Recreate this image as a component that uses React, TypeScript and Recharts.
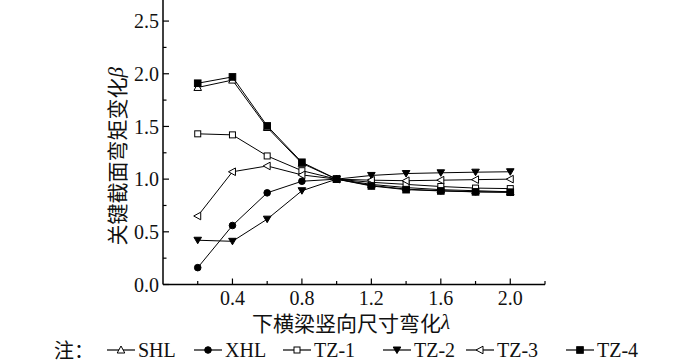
import React from 'react';
import { LineChart, Line, XAxis, YAxis, Label } from 'recharts';

const lambdaValues = [0.2, 0.4, 0.6, 0.8, 1.0, 1.2, 1.4, 1.6, 1.8, 2.0];
const SHL = [1.87, 1.94, 1.49, 1.15, 1.0, 0.95, 0.92, 0.9, 0.89, 0.88];
const XHL = [0.16, 0.56, 0.87, 0.98, 1.0, 0.94, 0.905, 0.89, 0.88, 0.875];
const TZ1 = [1.43, 1.42, 1.22, 1.08, 1.0, 0.97, 0.95, 0.93, 0.915, 0.91];
const TZ2 = [0.42, 0.41, 0.62, 0.89, 1.0, 1.035, 1.053, 1.06, 1.066, 1.07];
const TZ3 = [0.65, 1.07, 1.125, 1.04, 1.0, 0.99, 0.985, 0.99, 0.995, 1.0];
const TZ4 = [1.91, 1.97, 1.505, 1.16, 1.0, 0.935, 0.9, 0.888, 0.879, 0.876];

const seriesNames = ['SHL', 'XHL', 'TZ-1', 'TZ-2', 'TZ-3', 'TZ-4'];
const seriesValues = [SHL, XHL, TZ1, TZ2, TZ3, TZ4];
const markerTypes = ['triUpOpen', 'circleFilled', 'squareOpen', 'triDownFilled', 'triLeftOpen', 'squareFilled'];

const xTicks = [0.2, 0.4, 0.6, 0.8, 1.0, 1.2, 1.4, 1.6, 1.8, 2.0, 2.2];
const xLabelTicks = [0.4, 0.8, 1.2, 1.6, 2.0];
const yTicks = [0, 0.25, 0.5, 0.75, 1.0, 1.25, 1.5, 1.75, 2.0, 2.25, 2.5];
const yLabelTicks = [0, 0.5, 1.0, 1.5, 2.0, 2.5];

const xTitle = '下横梁竖向尺寸弯化';
const xTitleSym = 'λ';
const yTitle = '关键截面弯矩变化';
const yTitleSym = 'β';
const notePrefix = '注：';

const legendLefts = [106, 193, 282, 382, 465, 565];

const data = lambdaValues.map((l, i) => {
  const row: any = { lambda: l };
  seriesNames.forEach((n, k) => {
    row[n] = seriesValues[k][i];
  });
  return row;
});

const SERIF = "'Liberation Serif', 'Times New Roman', Times, serif";
const CJK = "'Noto Sans CJK SC', sans-serif";

function Marker({ type, cx, cy }: { type: string; cx: number; cy: number }) {
  const s = 3.3;
  const common = { stroke: '#000', strokeWidth: 1 };
  switch (type) {
    case 'triUpOpen':
      return <polygon points={`${cx},${cy - 4} ${cx - 3.8},${cy + 3} ${cx + 3.8},${cy + 3}`} fill="#fff" {...common} />;
    case 'circleFilled':
      return <circle cx={cx} cy={cy} r={3.3} fill="#000" {...common} />;
    case 'squareOpen':
      return <rect x={cx - 3} y={cy - 3} width={6} height={6} fill="#fff" {...common} />;
    case 'triDownFilled':
      return <polygon points={`${cx},${cy + 3.5} ${cx - 3.8},${cy - 3} ${cx + 3.8},${cy - 3}`} fill="#000" {...common} />;
    case 'triLeftOpen':
      return <polygon points={`${cx - 4},${cy} ${cx + 3},${cy - 3.8} ${cx + 3},${cy + 3.8}`} fill="#fff" {...common} />;
    case 'squareFilled':
      return <rect x={cx - s} y={cy - s} width={2 * s} height={2 * s} fill="#000" {...common} />;
    default:
      return null;
  }
}

const approxIn = (v: number, arr: number[]) => arr.some((a) => Math.abs(a - v) < 1e-6);

const YTick = (props: any) => {
  const { x, y, payload } = props;
  const major = approxIn(payload.value, yLabelTicks);
  const axisX = x + 4;
  return (
    <g>
      <line x1={axisX} x2={axisX + (major ? 6 : 3.5)} y1={y} y2={y} stroke="#000" strokeWidth={1.2} />
      {major && (
        <text x={x} y={y} dy="0.36em" textAnchor="end" style={{ fontFamily: SERIF }} fontSize={20} fill="#111">
          {payload.value.toFixed(1)}
        </text>
      )}
    </g>
  );
};

const XTick = (props: any) => {
  const { x, y, payload } = props;
  const major = approxIn(payload.value, xLabelTicks);
  const axisY = y - 6;
  return (
    <g>
      <line x1={x} x2={x} y1={axisY} y2={axisY - (major ? 6 : 3.5)} stroke="#000" strokeWidth={1.2} />
      {major && (
        <text x={x} y={y} dy="0.72em" textAnchor="middle" style={{ fontFamily: SERIF }} fontSize={20} fill="#111">
          {payload.value.toFixed(1)}
        </text>
      )}
    </g>
  );
};

function LegendSymbol({ type }: { type: string }) {
  return (
    <svg width={30} height={14} style={{ display: 'block' }}>
      <line x1={1} x2={29} y1={7} y2={7} stroke="#000" strokeWidth={1.2} />
      <Marker type={type} cx={15} cy={7} />
    </svg>
  );
}

export default function App() {
  return (
    <div style={{ position: 'absolute', left: 0, top: 0, width: 700, height: 363, background: '#fff' }}>
      <LineChart width={700} height={363} data={data} margin={{ top: 0, right: 155, bottom: 48.5, left: 0 }}>
        <XAxis
          dataKey="lambda"
          type="number"
          domain={[0, 2.2]}
          ticks={xTicks}
          interval={0}
          tickSize={0}
          tickMargin={6}
          tickLine={false}
          tick={<XTick />}
          height={30}
          axisLine={{ stroke: '#000', strokeWidth: 1.5 }}
          allowDataOverflow
        >
          <Label
            content={(p: any) => {
              const vb = p.viewBox;
              return (
                <text x={vb.x + vb.width / 2 - 3} y={322} textAnchor="middle" dominantBaseline="central" fontSize={21} fill="#111">
                  <tspan style={{ fontFamily: CJK }}>{xTitle}</tspan>
                  <tspan style={{ fontFamily: SERIF, fontStyle: 'italic' }}>{xTitleSym}</tspan>
                </text>
              );
            }}
          />
        </XAxis>
        <YAxis
          type="number"
          domain={[0, 2.7]}
          ticks={yTicks}
          interval={0}
          tickSize={0}
          tickMargin={4}
          tickLine={false}
          tick={<YTick />}
          width={163}
          axisLine={{ stroke: '#000', strokeWidth: 1.5 }}
          allowDataOverflow
        >
          <Label
            content={(p: any) => {
              const vb = p.viewBox;
              const cx = 116;
              const cy = vb.y + vb.height / 2 + 14;
              return (
                <text x={cx} y={cy} textAnchor="middle" dominantBaseline="central" fontSize={21} fill="#111" transform={`rotate(-90, ${cx}, ${cy})`}>
                  <tspan style={{ fontFamily: CJK }}>{yTitle}</tspan>
                  <tspan style={{ fontFamily: SERIF, fontStyle: 'italic' }}>{yTitleSym}</tspan>
                </text>
              );
            }}
          />
        </YAxis>
        {seriesNames.map((n, k) => (
          <Line
            key={n}
            dataKey={n}
            stroke="#000"
            strokeWidth={1}
            isAnimationActive={false}
            dot={(p: any) => <Marker key={`${n}-${p.index}`} type={markerTypes[k]} cx={p.cx} cy={p.cy} />}
            activeDot={false}
          />
        ))}
      </LineChart>
      <div style={{ position: 'absolute', left: 0, top: 338, width: 700, height: 24, fontFamily: SERIF, fontSize: 20, color: '#111', lineHeight: '24px', whiteSpace: 'nowrap' }}>
        <span style={{ position: 'absolute', left: 54, top: 0, fontFamily: CJK }}>{notePrefix}</span>
        {seriesNames.map((n, k) => (
          <div key={n} style={{ position: 'absolute', left: legendLefts[k], top: 0, display: 'flex', alignItems: 'center', height: 24 }}>
            <LegendSymbol type={markerTypes[k]} />
            <span style={{ marginLeft: 2 }}>{n}</span>
          </div>
        ))}
      </div>
    </div>
  );
}
